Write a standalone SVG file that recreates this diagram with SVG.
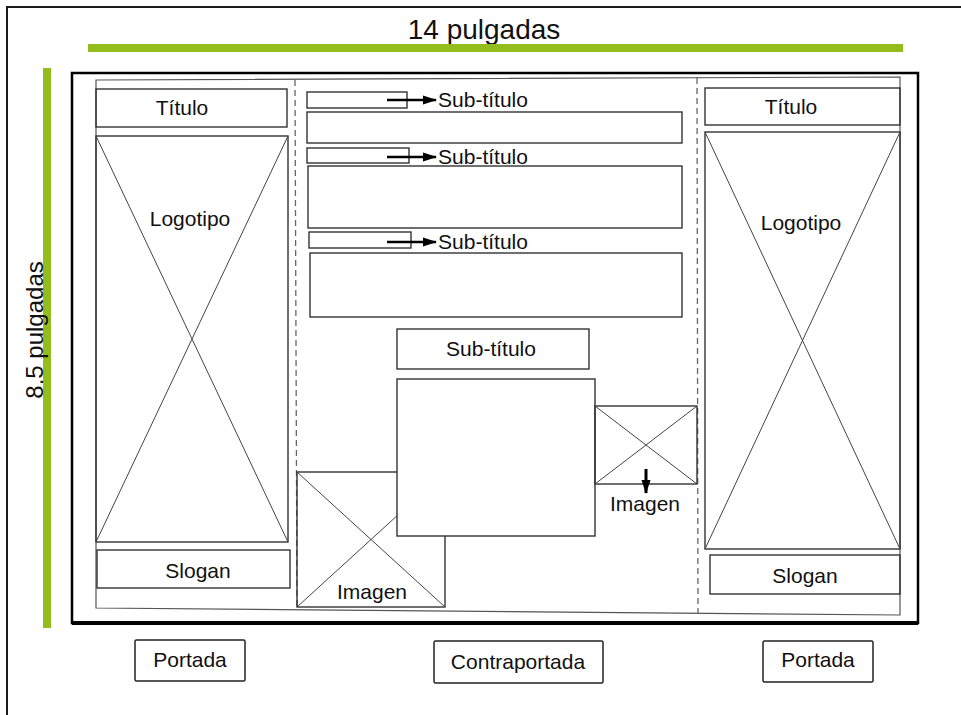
<svg xmlns="http://www.w3.org/2000/svg" width="961" height="715" viewBox="0 0 961 715">
<style>
text{font-family:"Liberation Sans",Arial,sans-serif;fill:#111;}
.lbl{font-size:21px;text-anchor:middle;dominant-baseline:central;}
.box{fill:none;stroke:#333;stroke-width:1.4;}
.wbox{fill:#fff;stroke:#333;stroke-width:1.4;}
.x{stroke:#444;stroke-width:1;fill:none;}
.dash{stroke:#666;stroke-width:1.3;stroke-dasharray:6 4;fill:none;}
.green{fill:#93bd1d;}
.conn{stroke:#000;stroke-width:2.4;fill:none;}
.tag{fill:#fff;stroke:#222;stroke-width:1.5;}
</style>
<defs>
<marker id="ah" viewBox="0 0 14 10" refX="13" refY="5" markerWidth="14" markerHeight="10" orient="auto" markerUnits="userSpaceOnUse">
<path d="M0,0.5 L14,5 L0,9.5 z" fill="#000"/>
</marker>
</defs>
<rect width="961" height="715" fill="#fff"/>
<path d="M7,715 V7 H961" fill="none" stroke="#1a1a1a" stroke-width="2"/>

<g id="dim-width">
<text x="484" y="29" style="font-size:28px" text-anchor="middle" dominant-baseline="central">14 pulgadas</text>
<rect class="green" x="88" y="44" width="815" height="8"/>
</g>
<g id="dim-height">
<rect class="green" x="43" y="68" width="8" height="560"/>
<text transform="translate(34,330) rotate(-90)" style="font-size:24px" text-anchor="middle" dominant-baseline="central">8.5 pulgadas</text>
</g>

<g id="sheet">
<rect x="72" y="73" width="846" height="550" fill="#fff" stroke="#000" stroke-width="2.5"/>
<line x1="72" y1="623" x2="918" y2="623" stroke="#000" stroke-width="4"/>
<path d="M96,80 L900,77 L900,615 L96,608 Z" fill="none" stroke="#555" stroke-width="1.2"/>
<line class="dash" x1="295" y1="80" x2="297" y2="608"/>
<line class="dash" x1="697" y1="78" x2="698" y2="614"/>
</g>

<g id="left-panel">
<g id="left-titulo"><rect class="box" x="96" y="89" width="191" height="38"/><text class="lbl" x="182" y="107">Título</text></g>
<g id="left-logotipo">
<rect class="box" x="96" y="136" width="192" height="406"/>
<line class="x" x1="96" y1="136" x2="288" y2="542"/>
<line class="x" x1="288" y1="136" x2="96" y2="542"/>
<text class="lbl" x="190" y="218">Logotipo</text>
</g>
<g id="left-slogan"><rect class="box" x="97" y="550" width="193" height="38"/><text class="lbl" x="198" y="570">Slogan</text></g>
</g>

<g id="middle-panel">
<g id="sub1"><rect class="box" x="307" y="92" width="100" height="16"/><text class="lbl" x="483" y="99">Sub-título</text></g>
<rect id="text1" class="box" x="307" y="112" width="375" height="31"/>
<g id="sub2"><rect class="box" x="307" y="148" width="102" height="15"/><text class="lbl" x="483" y="156">Sub-título</text></g>
<rect id="text2" class="box" x="308" y="166" width="374" height="62"/>
<g id="sub3"><rect class="box" x="309" y="232" width="102" height="16"/><text class="lbl" x="483" y="241">Sub-título</text></g>
<rect id="text3" class="box" x="310" y="253" width="372" height="64"/>
<g id="sub4"><rect class="box" x="397" y="329" width="192" height="40"/><text class="lbl" x="491" y="348">Sub-título</text></g>
<g id="imagen-left">
<rect class="box" x="297" y="472" width="148" height="135"/>
<line class="x" x1="297" y1="472" x2="445" y2="607"/>
<line class="x" x1="297" y1="607" x2="445" y2="472"/>
<text class="lbl" x="372" y="591">Imagen</text>
</g>
<rect id="main-block" class="wbox" x="397" y="379" width="198" height="157"/>
<g id="imagen-right">
<rect class="box" x="595" y="406" width="102" height="78"/>
<line class="x" x1="595" y1="406" x2="697" y2="484"/>
<line class="x" x1="595" y1="484" x2="697" y2="406"/>
<text class="lbl" x="645" y="503">Imagen</text>
</g>
</g>

<g id="right-panel">
<g id="right-titulo"><rect class="box" x="705" y="88" width="195" height="37"/><text class="lbl" x="791" y="106">Título</text></g>
<g id="right-logotipo">
<rect class="box" x="705" y="132" width="195" height="417"/>
<line class="x" x1="705" y1="132" x2="900" y2="549"/>
<line class="x" x1="900" y1="132" x2="705" y2="549"/>
<text class="lbl" x="801" y="222">Logotipo</text>
</g>
<g id="right-slogan"><rect class="box" x="710" y="555" width="190" height="39"/><text class="lbl" x="805" y="575">Slogan</text></g>
</g>

<g id="labels">
<g id="lbl-portada-left"><rect class="tag" x="135" y="640" width="110" height="41" rx="1.5"/><text class="lbl" x="190" y="659">Portada</text></g>
<g id="lbl-contraportada"><rect class="tag" x="434" y="641" width="169" height="42" rx="1.5"/><text class="lbl" x="518" y="661">Contraportada</text></g>
<g id="lbl-portada-right"><rect class="tag" x="763" y="641" width="110" height="41" rx="1.5"/><text class="lbl" x="818" y="659">Portada</text></g>
</g>

<g id="connectors">
<line class="conn" x1="387" y1="100" x2="436" y2="100" marker-end="url(#ah)"/>
<line class="conn" x1="387" y1="157" x2="436" y2="157" marker-end="url(#ah)"/>
<line class="conn" x1="387" y1="242" x2="436" y2="242" marker-end="url(#ah)"/>
<line class="conn" x1="646" y1="469" x2="646" y2="493" marker-end="url(#ah)" style="stroke-width:3"/>
</g>
</svg>
